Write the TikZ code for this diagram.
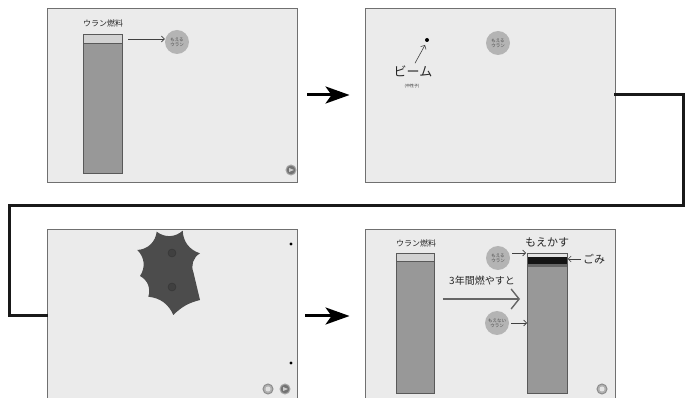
\documentclass[tikz,border=0pt]{standalone}
\usepackage{fontspec}
\setmainfont{Noto Sans CJK JP}
\usetikzlibrary{arrows.meta,positioning,calc}

\definecolor{screen}{HTML}{EBEBEB}
\definecolor{frame}{HTML}{707070}
\definecolor{fuel}{HTML}{989898}
\definecolor{fueltop}{HTML}{D2D2D2}
\definecolor{ball}{HTML}{B4B4B4}
\definecolor{splat}{HTML}{4C4C4C}

\tikzset{
  panel/.style={draw=frame, fill=screen, line width=0.9pt, minimum width=250pt,
    minimum height=174pt, inner sep=0pt},
  bigarrow/.style={line width=3pt, -{Stealth[length=24pt,width=17pt,inset=6pt]}},
  loop line/.style={line width=3pt, line cap=rect, color=black!90},
  fuelbar/.style={draw=black!65, fill=fuel, line width=0.8pt, inner sep=0pt,
    anchor=north west},
  bar edge/.style={draw=black!65, line width=0.8pt},
  uranball/.style={circle, fill=ball, minimum size=24pt, inner sep=0pt,
    align=center, font=\fontsize{4.5}{5}\selectfont, text=black!70},
  pointer/.style={black!75, line width=0.6pt, -{Straight Barb[length=3pt]}},
  button/.style={circle, fill=black!55, draw=black!35, line width=1pt,
    minimum size=10pt, inner sep=0pt},
  caption/.style={inner sep=0pt, text=black!85}
}

\begin{document}
\begin{tikzpicture}[x=1pt, y=-1pt]
\useasboundingbox (0,0) rectangle (689,398);

% the four screens
\node [panel] (screen1) at (172,95) {};
\node [panel] (screen2) at (490,95) {};
\node [panel] (screen3) at (172,316) {};
\node [panel] (screen4) at (490,316) {};

% flow between the screens
\draw [bigarrow, shorten <=10pt, shorten >=15pt] (screen1) -- (screen2);
\draw [bigarrow, shorten <=8pt, shorten >=15pt] (screen3) -- (screen4);

\coordinate (turn-a) at (683,95);
\coordinate (turn-b) at (683,206);
\coordinate (turn-c) at (9,206);
\coordinate (turn-d) at (9,316);
\draw [loop line] (screen2.east) -- (turn-a) -- (turn-b) -- (turn-c) -- (turn-d) -- (screen3.west);

% screen 1: fresh fuel
\node [caption, font=\fontsize{8}{8}\selectfont] (fuel1-label) at (103,23) {ウラン燃料};
\node [fuelbar, minimum width=39pt, minimum height=139pt] (fuel1) at (83,34) {};
\fill [fueltop] (fuel1.north west) rectangle ($(fuel1.north east)+(0,9)$);
\draw [bar edge] ($(fuel1.north west)+(0,9)$) -- ($(fuel1.north east)+(0,9)$);
\draw [bar edge] (fuel1.north west) rectangle (fuel1.south east);
\node [uranball] (burn1) at (177,42) {もえる\\ウラン};
\draw [pointer] (128,39) -- (burn1.west |- 0,39);

\node [button] (next1) at (291,170) {};
\fill [black!20] ($(next1)+(-2,-2)$) -- ($(next1)+(3,0)$) -- ($(next1)+(-2,2)$) -- cycle;

% screen 2: neutron beam
\fill [black] (427,40) circle (2);
\coordinate (neutron) at (425,45);
\node [caption, font=\fontsize{13}{13}\selectfont] (beam) at (413,71) {ビーム};
\node [caption, font=\fontsize{4}{4}\selectfont] (beam-note) at (412,86) {(中性子)};
\draw [pointer] (beam.north) ++(2,-2) -- (neutron);
\node [uranball] (burn2) at (498,43) {もえる\\ウラン};

% screen 3: fission
\fill [splat] (156.7,231.7) to[bend right=40] (182.7,230.7) to[bend right=35] (200,253.3)
  to[bend right=40] (193.5,272.7) -- (200,300) to[bend right=15] (173.3,315)
  to[bend right=30] (148.3,296.7) to[bend right=40] (140,276) to[bend right=40] (137.3,250)
  to[bend right=40] cycle;
\foreach \y in {253,287}
  \draw [black!80, fill=black!75, line width=0.4pt] (172,\y) circle (4);
\foreach \y in {244,363}
  \fill [black] (291,\y) circle (1.6);
\node [button, fill=black!30, draw=black!45] (back3) at (268,389) {};
\fill [black!12] (back3) circle (2.5);
\node [button] (next3) at (285,389) {};
\fill [black!20] ($(next3)+(-2,-2)$) -- ($(next3)+(3,0)$) -- ($(next3)+(-2,2)$) -- cycle;

% screen 4: after three years
\node [caption, font=\fontsize{8}{8}\selectfont] (fuel4-label) at (416,243) {ウラン燃料};
\node [fuelbar, minimum width=38pt, minimum height=140pt] (fuel4) at (396,253) {};
\fill [fueltop] (fuel4.north west) rectangle ($(fuel4.north east)+(0,8)$);
\draw [bar edge] ($(fuel4.north west)+(0,8)$) -- ($(fuel4.north east)+(0,8)$);
\draw [bar edge] (fuel4.north west) rectangle (fuel4.south east);

\node [caption, font=\fontsize{11}{11}\selectfont] (spent-label) at (547,242) {もえかす};
\node [fuelbar, minimum width=40pt, minimum height=140pt] (spent) at (527,253) {};
\fill [fueltop!60] (spent.north west) rectangle ($(spent.north east)+(0,4)$);
\fill [black!92] ($(spent.north west)+(0,4)$) rectangle ($(spent.north east)+(0,11)$);
\fill [black!60] ($(spent.north west)+(0,11)$) rectangle ($(spent.north east)+(0,14)$);
\draw [bar edge] (spent.north west) rectangle (spent.south east);

\node [caption, font=\fontsize{11}{11}\selectfont] (waste) at (594,259) {ごみ};
\draw [pointer] (waste.west) ++(-2,0) -- (spent.east |- waste);

\node [uranball] (burn4) at (498,258) {もえる\\ウラン};
\draw [pointer] ($(burn4.east)+(2,-5)$) -- ($(spent.north west)+(-1,0)$);
\node [uranball] (unburnt) at (497,323) {もえない\\ウラン};
\draw [pointer] ($(unburnt.east)+(2,0)$) -- (spent.west |- unburnt);

\node [caption, font=\fontsize{10}{10}\selectfont] (years) at (482,281) {3年間燃やすと};
\draw [black!60, line width=1.4pt, -{Straight Barb[length=8pt,width=20pt]}] (fuel4.east |- years) ++(8,18) -- ($(spent.west |- years)+(-7,18)$);

\node [button, fill=black!30, draw=black!45] (back4) at (602,389) {};
\fill [white!90!black] (back4) circle (2.5);

\end{tikzpicture}
\end{document}
